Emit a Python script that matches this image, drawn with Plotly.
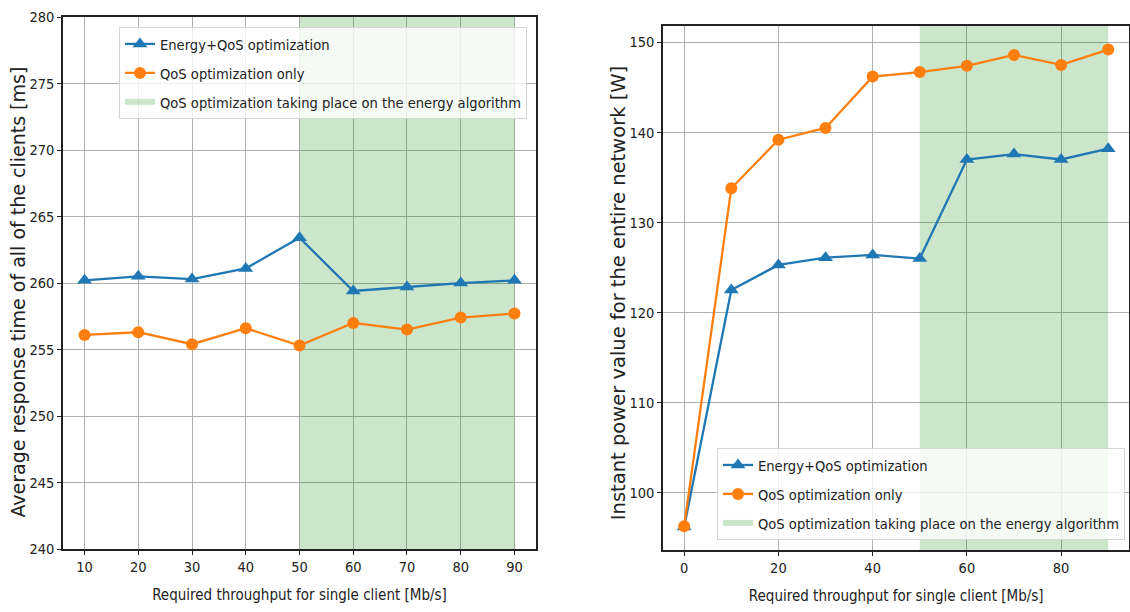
import plotly.graph_objects as go

# ---- data ----
x_left = [10, 20, 30, 40, 50, 60, 70, 80, 90]
resp_energy_qos = [260.2, 260.5, 260.3, 261.1, 263.4, 259.4, 259.7, 260.0, 260.2]
resp_qos_only = [256.1, 256.3, 255.4, 256.6, 255.3, 257.0, 256.5, 257.4, 257.7]

x_right = [0, 10, 20, 30, 40, 50, 60, 70, 80, 90]
power_energy_qos = [96.2, 122.5, 125.3, 126.1, 126.4, 126.0, 137.0, 137.6, 137.0, 138.2]
power_qos_only = [96.3, 133.8, 139.2, 140.5, 146.2, 146.7, 147.4, 148.6, 147.5, 149.2]

shade_start, shade_end = 50, 90

left_ticks = [10, 20, 30, 40, 50, 60, 70, 80, 90]
left_yticks = [240, 245, 250, 255, 260, 265, 270, 275, 280]
right_ticks = [0, 20, 40, 60, 80]
right_yticks = [100, 110, 120, 130, 140, 150]

name_a = "Energy+QoS optimization"
name_b = "QoS optimization only"
name_c = "QoS optimization taking place on the energy algorithm"
xlabel = "Required throughput for single client [Mb/s]"
ylabel_left = "Average response time of all of the clients [ms]"
ylabel_right = "Instant power value for the entire network [W]"

# ---- styling ----
BLUE = "#1f77b4"
ORANGE = "#ff7f0e"
SHADE = "rgba(0,128,0,0.2)"
FONT = "DejaVu Sans Condensed, Liberation Sans Narrow, DejaVu Sans"

left_yr = [240, 280]
right_xr = [-4.5, 94.5]
right_yr = [93.65, 151.85]
left_xr = [6, 94]

fig = go.Figure()

# shaded spans
fig.add_trace(go.Scatter(
    x=[shade_start, shade_end, shade_end, shade_start, shade_start],
    y=[left_yr[0], left_yr[0], left_yr[1], left_yr[1], left_yr[0]],
    fill="toself", fillcolor=SHADE, mode="none", name=name_c, legendgroup="c1",
    xaxis="x", yaxis="y", legend="legend", hoverinfo="skip", legendrank=3))
fig.add_trace(go.Scatter(
    x=[shade_start, shade_end, shade_end, shade_start, shade_start],
    y=[right_yr[0], right_yr[0], right_yr[1], right_yr[1], right_yr[0]],
    fill="toself", fillcolor=SHADE, mode="none", name=name_c, legendgroup="c2",
    xaxis="x2", yaxis="y2", legend="legend2", hoverinfo="skip", legendrank=3))

# left panel
fig.add_trace(go.Scatter(x=x_left, y=resp_energy_qos, mode="lines+markers", name=name_a,
                         line=dict(color=BLUE, width=2.3), legendgroup="a1", legendrank=1,
                         marker=dict(symbol="triangle-up", size=13, color=BLUE),
                         xaxis="x", yaxis="y", legend="legend"))
fig.add_trace(go.Scatter(x=x_left, y=resp_qos_only, mode="lines+markers", name=name_b,
                         line=dict(color=ORANGE, width=2.3), legendgroup="b1", legendrank=2,
                         marker=dict(symbol="circle", size=12, color=ORANGE),
                         xaxis="x", yaxis="y", legend="legend"))
# right panel
fig.add_trace(go.Scatter(x=x_right, y=power_energy_qos, mode="lines+markers", name=name_a,
                         line=dict(color=BLUE, width=2.3), legendgroup="a2", legendrank=1,
                         marker=dict(symbol="triangle-up", size=13, color=BLUE),
                         xaxis="x2", yaxis="y2", legend="legend2"))
fig.add_trace(go.Scatter(x=x_right, y=power_qos_only, mode="lines+markers", name=name_b,
                         line=dict(color=ORANGE, width=2.3), legendgroup="b2", legendrank=2,
                         marker=dict(symbol="circle", size=12, color=ORANGE),
                         xaxis="x2", yaxis="y2", legend="legend2"))

axis_common = dict(showline=True, linecolor="#222222", linewidth=1.5, mirror=True,
                   showgrid=True, gridcolor="#b0b0b0", gridwidth=1,
                   ticks="outside", ticklen=4, tickcolor="#222222", automargin=False,
                   zeroline=False, tickfont=dict(family=FONT, size=14.5, color="#222222"))

legend_common = dict(xanchor="left", yanchor="top",
                     bgcolor="rgba(255,255,255,0.8)", bordercolor="#d5d5d5", borderwidth=1,
                     font=dict(family=FONT, size=14.6, color="#222222"),
                     traceorder="grouped", tracegroupgap=7)

fig.update_layout(
    width=1130, height=612,
    margin=dict(l=0, r=0, t=0, b=0),
    paper_bgcolor="white", plot_bgcolor="white",
    font=dict(family=FONT, color="#222222"),
    xaxis=dict(domain=[0.0558, 0.4743], range=left_xr, tickvals=left_ticks, anchor="y",
               title=dict(text=xlabel, font=dict(family=FONT, size=15)),
               **axis_common),
    yaxis=dict(domain=[0.1029, 0.9722], range=left_yr, tickvals=left_yticks, anchor="x",
               **axis_common),
    xaxis2=dict(domain=[0.5867, 0.9995], range=right_xr, tickvals=right_ticks, anchor="y2",
                title=dict(text=xlabel, font=dict(family=FONT, size=15)),
                **axis_common),
    yaxis2=dict(domain=[0.1013, 0.958], range=right_yr, tickvals=right_yticks, anchor="x2",
                **axis_common),
    legend=dict(x=0.1053, y=0.956, **legend_common),
    legend2=dict(x=0.6345, y=0.268, **legend_common),
    showlegend=True,
    annotations=[
        dict(text=ylabel_left, textangle=-90, xref="paper", yref="paper",
             x=18 / 1130, y=0.522, xanchor="center", yanchor="middle", showarrow=False,
             font=dict(family="DejaVu Sans", size=19, color="#222222")),
        dict(text=ylabel_right, textangle=-90, xref="paper", yref="paper",
             x=618 / 1130, y=0.521, xanchor="center", yanchor="middle", showarrow=False,
             font=dict(family="DejaVu Sans", size=19.5, color="#222222")),
    ],
)

fig.write_html("out.html", config={"displayModeBar": False},
               post_script="document.body.style.margin='0px';document.body.style.overflow='hidden';")
